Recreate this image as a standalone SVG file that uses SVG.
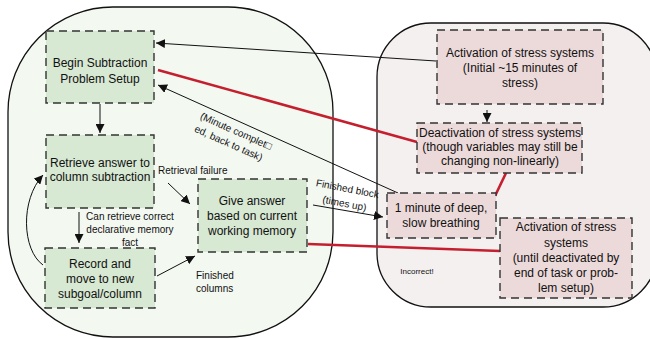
<svg xmlns="http://www.w3.org/2000/svg" width="650" height="339" viewBox="0 0 650 339">
<defs>
<style>
.cont{stroke:#111;stroke-width:1.3}
.g{fill:#d7e8d3;stroke:#333;stroke-width:1.4;stroke-dasharray:8 5}
.p{fill:#ecd9d9;stroke:#333;stroke-width:1.4;stroke-dasharray:8 5}
text{font-family:"Liberation Sans",Arial,sans-serif;fill:#111}
.t{font-size:12px;text-anchor:middle}
.s{font-size:10px}
.c{stroke:#111;stroke-width:1;fill:none}
.r{stroke:#c41f2e;stroke-width:2.6;fill:none}
</style>
<marker id="ah" viewBox="0 0 10 10" refX="10" refY="5" markerWidth="9" markerHeight="9" markerUnits="userSpaceOnUse" orient="auto">
<path d="M0,0 L10,5 L0,10 z" fill="#111"/>
</marker>
</defs>
<rect class="cont" x="8" y="7" width="325" height="330" rx="105" ry="105" fill="#f3f8f1"/>
<rect class="cont" x="377" y="23" width="280" height="284" rx="54" ry="54" fill="#f5f0f0"/>
<g id="connectors">
<line class="c" x1="436" y1="61" x2="156" y2="43" marker-end="url(#ah)"/>
<line class="r" x1="158" y1="70" x2="417" y2="142"/>
<line class="c" x1="398" y1="193" x2="158" y2="85" marker-end="url(#ah)"/>
<line class="r" x1="506" y1="173" x2="495" y2="196"/>
<line class="r" x1="308" y1="244" x2="500" y2="251"/>
<line class="c" x1="313" y1="205" x2="383" y2="217" marker-end="url(#ah)"/>
<line class="c" x1="100" y1="104" x2="100" y2="133" marker-end="url(#ah)"/>
<line class="c" x1="79" y1="212" x2="79" y2="243" marker-end="url(#ah)"/>
<path class="c" d="M43,265 C22,250 20,200 43,175" marker-end="url(#ah)"/>
<line class="c" x1="168" y1="183" x2="190" y2="204" marker-end="url(#ah)"/>
<line class="c" x1="157" y1="276" x2="195" y2="256" marker-end="url(#ah)"/>
<line class="c" x1="487" y1="110" x2="487" y2="122" marker-end="url(#ah)"/>
<text class="s" x="158" y="174">Retrieval failure</text>
<text class="s" text-anchor="middle"><tspan x="130" y="220">Can retrieve correct</tspan><tspan x="130" y="233">declarative memory</tspan><tspan x="130" y="246">fact</tspan></text>
<text class="s"><tspan x="196" y="279">Finished</tspan><tspan x="196" y="292">columns</tspan></text>
<g transform="translate(232,138) rotate(24)"><text class="s" text-anchor="middle" x="1" y="-4.5">(Minute complet□</text><text class="s" text-anchor="middle" x="-1" y="9.5">ed, back to task)</text></g>
<g transform="translate(346,196) rotate(11)"><text class="s" text-anchor="middle" x="0" y="-4">Finished block</text><text class="s" text-anchor="middle" x="0" y="11">(times up)</text></g>
<text x="417" y="274" font-size="8" text-anchor="middle">Incorrect!</text>
</g>
<g id="begin"><rect class="g" x="46" y="31" width="108" height="72"/><text class="t"><tspan x="100" y="66.5">Begin Subtraction</tspan><tspan x="100" y="83">Problem Setup</tspan></text></g>
<g id="retrieve"><rect class="g" x="46" y="135" width="108" height="73"/><text class="t"><tspan x="100" y="167">Retrieve answer to</tspan><tspan x="100" y="181">column subtraction</tspan></text></g>
<g id="record"><rect class="g" x="45" y="248" width="110" height="60"/><text class="t"><tspan x="100" y="268">Record and</tspan><tspan x="100" y="283">move to new</tspan><tspan x="100" y="298">subgoal/column</tspan></text></g>
<g id="give"><rect class="g" x="198" y="179" width="109" height="73"/><text class="t"><tspan x="252" y="205">Give answer</tspan><tspan x="252" y="220">based on current</tspan><tspan x="252" y="235">working memory</tspan></text></g>
<g id="activation1"><rect class="p" x="437" y="30" width="166" height="74"/><text class="t"><tspan x="520" y="57">Activation of stress systems</tspan><tspan x="520" y="72">(Initial ~15 minutes of</tspan><tspan x="520" y="87">stress)</tspan></text></g>
<g id="deactivation"><rect class="p" x="417" y="123" width="165" height="50"/><text class="t"><tspan x="500" y="137">Deactivation of stress systems</tspan><tspan x="500" y="151">(though variables may still be</tspan><tspan x="500" y="165">changing non-linearly)</tspan></text></g>
<g id="breathing"><rect class="p" x="387" y="193" width="109" height="45"/><text class="t"><tspan x="441" y="212">1 minute of deep,</tspan><tspan x="441" y="227">slow breathing</tspan></text></g>
<g id="activation2"><rect class="p" x="500" y="218" width="132" height="80"/><text class="t"><tspan x="566" y="231">Activation of stress</tspan><tspan x="566" y="247">systems</tspan><tspan x="566" y="262">(until deactivated by</tspan><tspan x="566" y="277">end of task or prob-</tspan><tspan x="566" y="292">lem setup)</tspan></text></g>
</svg>
